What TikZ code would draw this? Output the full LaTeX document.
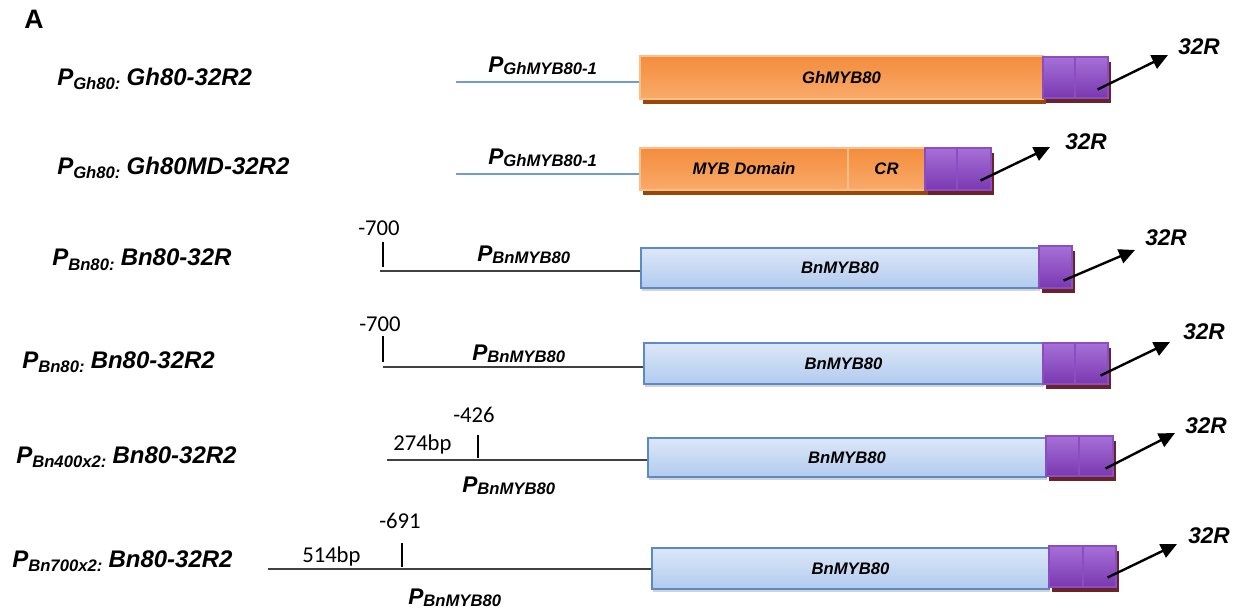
\documentclass[tikz,border=0pt]{standalone}
\usepackage{fontspec}
\setmainfont{Liberation Sans}
\newfontfamily\calibfont{Carlito}
\usetikzlibrary{
  arrows.meta
  , fit
  , shadows
  , calc
}
\definecolor{orangetop}{HTML}{F38D3C}
\definecolor{orangebot}{HTML}{F9AA6A}
\definecolor{orangeedge}{HTML}{FBBE8A}
\definecolor{orangeshadow}{HTML}{984807}
\definecolor{bluetop}{HTML}{DCE7F8}
\definecolor{bluebot}{HTML}{B2CBEE}
\definecolor{blueedge}{HTML}{5B8BC6}
\definecolor{purpletop}{HTML}{A670D8}
\definecolor{purplebot}{HTML}{7A38B0}
\definecolor{purpleedge}{HTML}{8A4EC2}
\definecolor{purpleshadow}{HTML}{6A2428}
\definecolor{promblue}{HTML}{6F9DD3}
\definecolor{promgray}{HTML}{404040}
% P with a lowered subscript
\newcommand\Psub[2][3pt]{P\raisebox{-#1}{\fontsize{12.5}{12.5}\selectfont #2}}

\begin{document}
\begin{tikzpicture}[x=0.75pt, y=-0.75pt,
    construct/.style={font=\bfseries\itshape\fontsize{18}{18}\selectfont,
      anchor=base west, inner sep=0pt},
    promname/.style={font=\bfseries\itshape\fontsize{17}{17}\selectfont,
      anchor=base west, inner sep=0pt},
    tagname/.style={font=\bfseries\itshape\fontsize{17}{17}\selectfont,
      anchor=base west, inner sep=0pt},
    posnum/.style={font=\calibfont\fontsize{17}{17}\selectfont,
      anchor=base west, inner sep=0pt},
    boxtext/.style={font=\bfseries\itshape\fontsize{12.5}{12.5}\selectfont,
      inner sep=0pt},
    orangebox/.style={top color=orangetop, bottom color=orangebot,
      draw=orangeedge, line width=0.8pt, inner sep=0pt,
      general shadow={fill=orangeshadow, shadow xshift=2.25pt, shadow yshift=-3.75pt}},
    bluebox/.style={top color=bluetop, bottom color=bluebot,
      draw=blueedge, line width=1pt, inner sep=0pt,
      drop shadow={shadow xshift=1pt, shadow yshift=-2.5pt, opacity=0.35}},
    tagbox/.style={top color=purpletop, bottom color=purplebot,
      draw=purpleedge, line width=0.8pt, inner sep=0pt,
      general shadow={fill=purpleshadow, shadow xshift=2.5pt, shadow yshift=-4pt}},
    blueprom/.style={draw=promblue, line width=1.7pt},
    grayprom/.style={draw=promgray, line width=1.7pt},
    tick/.style={line width=2pt},
    tagarrow/.style={-{Triangle[length=12pt,width=11pt]}, line width=1.8pt}
  ]
  \useasboundingbox (0,0) rectangle (1239,613);

  \node [font=\bfseries\fontsize{20}{20}\selectfont, anchor=base west, inner sep=0pt]
    (panel) at (24,29) {A};

  % row 1
  \node [construct] (r1name) at (57,86) {\Psub{Gh80: }Gh80-32R2};
  \coordinate (r1start) at (456,82);
  \node [orangebox, fit={(640,56) (1043,99)},
    label={[boxtext]center:GhMYB80}] (r1gene) {};
  \node [tagbox, fit={(1043,57) (1075,98)}] (r1p1) {};
  \node [tagbox, fit={(1075,57) (1108,98)}] (r1p2) {};
  \draw [blueprom] (r1start) -- (r1start -| r1gene.west);
  \node [promname] (r1prom) at (488,73) {\Psub[1.5pt]{GhMYB80-1}};
  \coordinate (r1end) at (1168,55);
  \node [tagname] (r1tag) at (1178,55) {32R};
  \draw [tagarrow] ($(r1p2.south east)+(-11,-9)$) -- (r1end);

  % row 2
  \node [construct] (r2name) at (57,175) {\Psub{Gh80: }Gh80MD-32R2};
  \coordinate (r2start) at (456,174);
  \node [orangebox, fit={(640,148) (848,190)},
    label={[boxtext]center:MYB Domain}] (r2myb) {};
  \node [orangebox, fit={(848,148) (925,190)},
    label={[boxtext]center:CR}] (r2cr) {};
  \node [tagbox, fit={(925,148) (957,190)}] (r2p1) {};
  \node [tagbox, fit={(957,148) (991,190)}] (r2p2) {};
  \draw [blueprom] (r2start) -- (r2start -| r2myb.west);
  \node [promname] (r2prom) at (488,165) {\Psub[1.5pt]{GhMYB80-1}};
  \coordinate (r2end) at (1050,147);
  \node [tagname] (r2tag) at (1065,150) {32R};
  \draw [tagarrow] ($(r2p2.south east)+(-11,-10)$) -- (r2end);

  % row 3
  \node [construct] (r3name) at (52,266) {\Psub{Bn80: }Bn80-32R};
  \coordinate (r3start) at (380,271);
  \node [bluebox, fit={(641,248) (1039,288)},
    label={[boxtext]center:BnMYB80}] (r3gene) {};
  \node [tagbox, fit={(1039,246) (1072,288)}] (r3p1) {};
  \draw [grayprom] (r3start) -- (r3start -| r3gene.west);
  \coordinate (r3tick) at (383,267);
  \draw [tick] (r3tick) -- ++(0,-25);
  \node [posnum] (r3pos) at (358,235) {-700};
  \node [promname] (r3prom) at (477,262) {\Psub[1.5pt]{BnMYB80}};
  \coordinate (r3end) at (1135,250);
  \node [tagname] (r3tag) at (1145,245) {32R};
  \draw [tagarrow] ($(r3p1.south east)+(-9,-8)$) -- (r3end);

  % row 4
  \node [construct] (r4name) at (22,368) {\Psub{Bn80: }Bn80-32R2};
  \coordinate (r4start) at (383,367);
  \node [bluebox, fit={(644,343) (1043,384)},
    label={[boxtext]center:BnMYB80}] (r4gene) {};
  \node [tagbox, fit={(1043,343) (1075,384)}] (r4p1) {};
  \node [tagbox, fit={(1075,343) (1108,384)}] (r4p2) {};
  \draw [grayprom] (r4start) -- (r4start -| r4gene.west);
  \coordinate (r4tick) at (383,362);
  \draw [tick] (r4tick) -- ++(0,-26);
  \node [posnum] (r4pos) at (359,331) {-700};
  \node [promname] (r4prom) at (472,360) {\Psub[1.5pt]{BnMYB80}};
  \coordinate (r4end) at (1170,342);
  \node [tagname] (r4tag) at (1183,339) {32R};
  \draw [tagarrow] ($(r4p2.south east)+(-8,-9)$) -- (r4end);

  % row 5
  \node [construct] (r5name) at (16,463) {\Psub{Bn400x2: }Bn80-32R2};
  \coordinate (r5start) at (387,460);
  \node [bluebox, fit={(648,438) (1046,477)},
    label={[boxtext]center:BnMYB80}] (r5gene) {};
  \node [tagbox, fit={(1046,436) (1079,476)}] (r5p1) {};
  \node [tagbox, fit={(1079,436) (1113,476)}] (r5p2) {};
  \draw [grayprom] (r5start) -- (r5start -| r5gene.west);
  \coordinate (r5tick) at (478,458);
  \draw [tick] (r5tick) -- ++(0,-23);
  \node [posnum] (r5pos) at (453,422) {-426};
  \node [posnum] (r5len) at (393,450) {274bp};
  \node [promname] (r5prom) at (462,492) {\Psub[1.5pt]{BnMYB80}};
  \coordinate (r5end) at (1175,433);
  \node [tagname] (r5tag) at (1185,433) {32R};
  \draw [tagarrow] ($(r5p2.south east)+(-8,-8)$) -- (r5end);

  % row 6
  \node [construct] (r6name) at (12,567) {\Psub{Bn700x2: }Bn80-32R2};
  \coordinate (r6start) at (268,569);
  \node [bluebox, fit={(652,548) (1049,589)},
    label={[boxtext]center:BnMYB80}] (r6gene) {};
  \node [tagbox, fit={(1049,546) (1083,587)}] (r6p1) {};
  \node [tagbox, fit={(1083,546) (1116,587)}] (r6p2) {};
  \draw [grayprom] (r6start) -- (r6start -| r6gene.west);
  \coordinate (r6tick) at (402,567);
  \draw [tick] (r6tick) -- ++(0,-24);
  \node [posnum] (r6pos) at (379,528) {-691};
  \node [posnum] (r6len) at (302,562) {514bp};
  \node [promname] (r6prom) at (408,604) {\Psub[1.5pt]{BnMYB80}};
  \coordinate (r6end) at (1177,544);
  \node [tagname] (r6tag) at (1188,543) {32R};
  \draw [tagarrow] ($(r6p2.south east)+(-9,-10)$) -- (r6end);
\end{tikzpicture}
\end{document}
